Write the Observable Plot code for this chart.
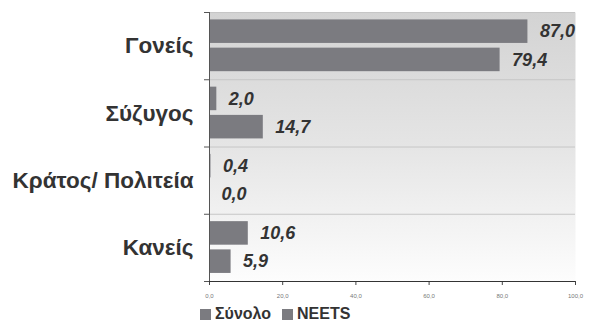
<!DOCTYPE html>
<html>
<head>
<meta charset="utf-8">
<script src="https://cdn.jsdelivr.net/npm/d3@7"></script>
<script src="https://cdn.jsdelivr.net/npm/@observablehq/plot@0.6"></script>
<style>
  html, body { margin: 0; padding: 0; background: #fff; }
  #chart { width: 589px; height: 323px; overflow: hidden; font-family: "Liberation Sans", Arial, sans-serif; }
  .legend { height: 17px; line-height: 17px; padding-left: 200px; padding-top: 0px; font: bold 16px "Liberation Sans", Arial, sans-serif; color: #333; white-space: nowrap; }
  .legend .sw { display: inline-block; width: 11px; height: 11px; background: #7b7b80; margin-right: 4px; vertical-align: -1px; }
  .legend .item { margin-right: 11px; }
</style>
</head>
<body>
<div id="chart"></div>
<script>
const categories = ["Γονείς", "Σύζυγος", "Κράτος/ Πολιτεία", "Κανείς"];
const total = [87.0, 2.0, 0.4, 10.6];
const neets = [79.4, 14.7, 0.0, 5.9];
const series = ["Σύνολο", "NEETS"];
const xTicks = [0, 20, 40, 60, 80, 100];

const fmt = v => d3.format(".1f")(v).replace(".", ",");
const rows = categories.map((c, i) => ({c, i, total: total[i], neets: neets[i]}));
const barColor = "#7b7b80";
const font = "Liberation Sans, Arial, sans-serif";

const plot = Plot.plot({
  width: 589,
  height: 305,
  marginLeft: 209,
  marginRight: 14,
  marginTop: 12,
  marginBottom: 24,
  style: {fontFamily: font, background: "transparent"},
  x: {domain: [0, 100]},
  y: {domain: [0, categories.length], reverse: true},
  marks: [
    Plot.frame({fill: "url(#bg)", stroke: null}),
    Plot.ruleY(d3.range(categories.length), {stroke: "#c6c6c6"}),
    Plot.rectX(rows, {x1: 0, x2: "total", y1: d => d.i + 0.11, y2: d => d.i + 0.46, fill: barColor}),
    Plot.rectX(rows, {x1: 0, x2: "neets", y1: d => d.i + 0.53, y2: d => d.i + 0.88, fill: barColor}),
    Plot.text(rows, {x: "total", y: d => d.i + 0.285, text: d => fmt(d.total), dx: 12, textAnchor: "start",
      fontSize: 18, fontWeight: "bold", fontStyle: "italic", fill: "#333"}),
    Plot.text(rows, {x: "neets", y: d => d.i + 0.705, text: d => fmt(d.neets), dx: 12, textAnchor: "start",
      fontSize: 18, fontWeight: "bold", fontStyle: "italic", fill: "#333"}),
    Plot.axisY({ticks: d3.range(categories.length + 1), tickSize: 5, tickFormat: () => "", stroke: "#555"}),
    Plot.axisY({ticks: categories.map((c, i) => i + 0.5), tickSize: 0, tickPadding: 16,
      tickFormat: v => categories[Math.floor(v)], fontSize: 22.5, fontWeight: "bold", fill: "#333"}),
    Plot.axisX({ticks: xTicks, tickSize: 4, tickPadding: 8, tickFormat: fmt, fontSize: 6, fill: "#777", stroke: "#444"}),
    Plot.ruleX([0], {stroke: "#555"}),
    Plot.ruleY([categories.length], {stroke: "#333"})
  ]
});

const ns = "http://www.w3.org/2000/svg";
const defs = document.createElementNS(ns, "defs");
const grad = document.createElementNS(ns, "linearGradient");
grad.setAttribute("id", "bg");
grad.setAttribute("x1", "0"); grad.setAttribute("y1", "0");
grad.setAttribute("x2", "0"); grad.setAttribute("y2", "1");
[["0", "#d3d3d3"], ["0.5", "#e5e5e5"], ["1", "#fdfdfd"]].forEach(([o, c]) => {
  const s = document.createElementNS(ns, "stop");
  s.setAttribute("offset", o); s.setAttribute("stop-color", c);
  grad.appendChild(s);
});
defs.appendChild(grad);
plot.insertBefore(defs, plot.firstChild);

const chart = document.getElementById("chart");
chart.appendChild(plot);

const legend = document.createElement("div");
legend.className = "legend";
legend.innerHTML = series.map(s => `<span class="item"><span class="sw"></span>${s}</span>`).join("");
chart.appendChild(legend);
</script>
</body>
</html>
